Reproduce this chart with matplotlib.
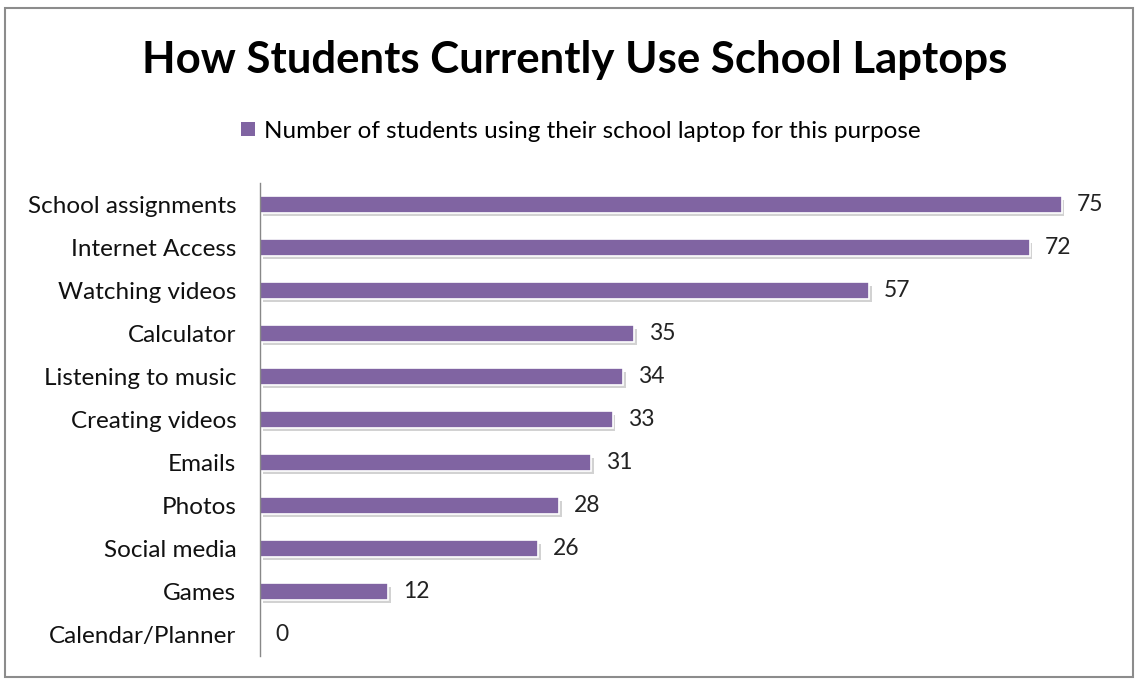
import matplotlib
matplotlib.use("Agg")
import matplotlib.pyplot as plt
import matplotlib.patheffects as pe
from matplotlib.patches import Rectangle, Patch

categories = ["School assignments", "Internet Access", "Watching videos", "Calculator",
              "Listening to music", "Creating videos", "Emails", "Photos",
              "Social media", "Games", "Calendar/Planner"]
values = [75, 72, 57, 35, 34, 33, 31, 28, 26, 12, 0]
series_name = "Number of students using their school laptop for this purpose"
title = "How Students Currently Use School Laptops"

plt.rcParams['font.family'] = ['Lato', 'DejaVu Sans']
color = "#8064A2"

fig = plt.figure(figsize=(11.35, 6.79), dpi=100)
ax = fig.add_axes([260/1135, 1-656/679, 855/1135, (656-183)/679])

ypos = list(range(len(categories)))
bars = ax.barh(ypos, values, height=0.38, color=color, edgecolor="white", linewidth=1.2)
for b in bars:
    b.set_path_effects([pe.SimplePatchShadow(offset=(2, -2.5), shadow_rgbFace="gray", alpha=0.35),
                        pe.Normal()])
for y, v in zip(ypos, values):
    ax.text(v + 1.4, y, str(v), va="center", ha="left", fontsize=16.5, color="#222222")

ax.set_xlim(0, 80)
ax.set_ylim(len(categories) - 0.5, -0.5)
ax.set_yticks(ypos)
ax.set_yticklabels(categories, fontsize=17.5, color="#111111")
ax.tick_params(axis="y", length=0, pad=17)
ax.set_xticks([])
for s in ["top", "right", "bottom"]:
    ax.spines[s].set_visible(False)
ax.spines["left"].set_color("#888888")
ax.spines["left"].set_linewidth(1)

fig.text(575/1135, 1-60/679, title, ha="center", va="center", fontsize=31.5, fontweight="bold", color="black")
fig.legend(handles=[Patch(facecolor=color, label=series_name)], loc="center",
           bbox_to_anchor=(581/1135, 1-131/679), frameon=False, fontsize=17.5,
           handlelength=0.55, handleheight=0.55, handletextpad=0.4)

fig.add_artist(Rectangle((5/1135, 1-677/679), 1128/1135, 669/679, transform=fig.transFigure,
                         fill=False, edgecolor="#8c8c8c", linewidth=1.5))

fig.savefig("out.png", dpi=100)
